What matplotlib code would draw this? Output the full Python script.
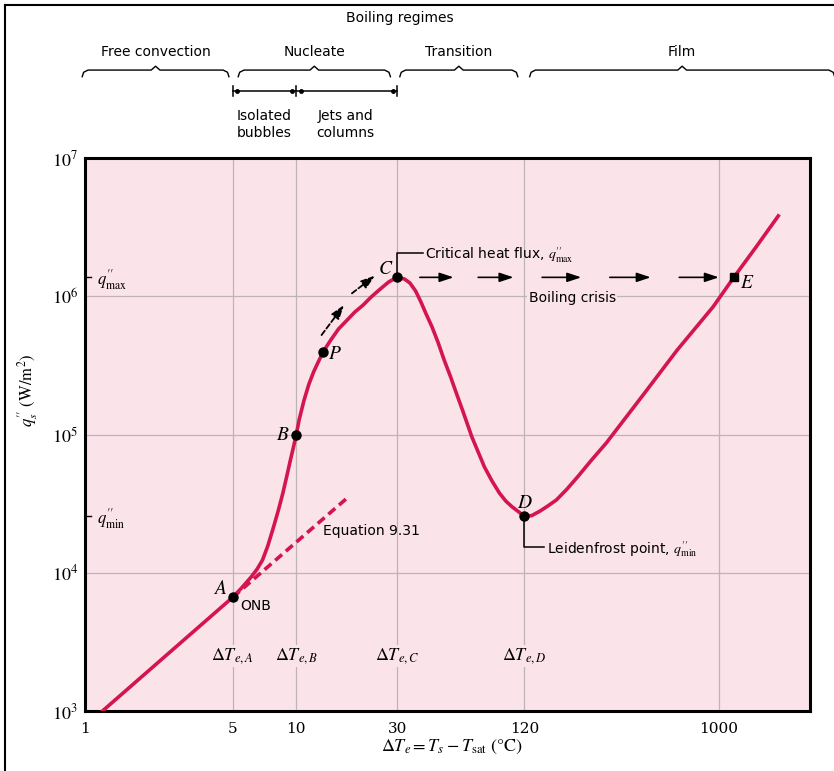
import numpy as np
import matplotlib
matplotlib.use('Agg')
import matplotlib.pyplot as plt
from matplotlib.lines import Line2D

plt.rcParams['font.family'] = ['DejaVu Sans']
plt.rcParams['mathtext.fontset'] = 'stix'

# boiling curve (delta T_e in degC, q'' in W/m2)
dT = [1.21, 5.0, 5.51, 6.13, 6.53, 6.92, 7.33, 7.81, 8.23, 8.64, 9.02, 9.38, 9.70, 10.0,
      10.32, 10.87, 11.46, 12.07, 12.72, 13.41, 14.57, 15.85, 17.41, 18.93, 20.73, 22.62,
      24.66, 27.4, 30.0, 32.5, 34.5, 36.7, 38.9, 40.96, 43.9, 46.99, 50.1, 53.7, 57.3, 61.2,
      64.4, 67.7, 72.6, 77.6, 84.4, 91.5, 98.1, 105.0, 112.4, 120.0, 130.1, 142.8, 155.0,
      170.2, 191.1, 214.8, 249.8, 293.2, 432.1, 634.8, 939.9, 1177.0, 1503.0, 1911.0]
q = [1.0e3, 6.64e3, 7.76e3, 9.36e3, 1.064e4, 1.236e4, 1.562e4, 2.15e4, 2.84e4, 3.77e4, 5.01e4,
     6.54e4, 8.12e4, 1.0e5, 1.28e5, 1.76e5, 2.30e5, 2.83e5, 3.36e5, 3.97e5, 4.83e5, 5.80e5,
     6.73e5, 7.69e5, 8.64e5, 9.88e5, 1.11e6, 1.27e6, 1.37e6, 1.333e6, 1.247e6, 1.092e6, 9.09e5,
     7.57e5, 6.0e5, 4.59e5, 3.46e5, 2.62e5, 1.98e5, 1.50e5, 1.20e5, 9.64e4, 7.47e4, 5.85e4,
     4.61e4, 3.77e4, 3.30e4, 3.0e4, 2.77e4, 2.57e4, 2.59e4, 2.80e4, 3.04e4, 3.36e4, 4.03e4,
     4.95e4, 6.54e4, 8.68e4, 1.88e5, 4.08e5, 8.40e5, 1.37e6, 2.28e6, 3.81e6]

# free convection correlation (Equation 9.31) carried on past ONB
dT_eq = [5.0, 17.7]
q_eq = [6.64e3, 3.55e4]

# labelled points
pt_names = ['A', 'B', 'P', 'C', 'D']
pt_dT = [5.0, 10.0, 13.41, 30.0, 120.0]
pt_q = [6.64e3, 1.0e5, 3.97e5, 1.37e6, 2.57e4]
E_dT = 1177.0
E_q = 1.37e6

q_max = 1.37e6
q_min = 2.57e4

# boiling crisis arrows (C -> E)
crisis_from = [38.45, 72.6, 145.7, 304.7, 649.7]
crisis_to = [55.5, 106.7, 223.2, 476.1, 1000.0]

# dashed arrows along the nucleate branch
nuc_from = [(13.17, 5.24e5), (18.34, 1.05e6)]
nuc_to = [(16.82, 8.64e5), (23.58, 1.41e6)]

x_ticks = [1, 5, 10, 30, 120, 1000]
y_ticks = [1e3, 1e4, 1e5, 1e6, 1e7]
dT_marks = [5, 10, 30, 120]
dT_names = ['A', 'B', 'C', 'D']

regimes = ['Free convection', 'Nucleate', 'Transition', 'Film']
regime_edges = [(0.97, 4.8), (5.31, 27.9), (30.9, 111.8), (127.2, 3532.0)]

pink = '#FBE3EA'
red = '#D4154F'

fig = plt.figure(figsize=(8.34, 7.71), dpi=100)
ax = fig.add_axes([85 / 834, 60 / 771, 725 / 834, 553 / 771])
ax.set_xscale('log')
ax.set_yscale('log')
ax.set_xlim(1, 2700)
ax.set_ylim(1e3, 1e7)
ax.set_facecolor(pink)
for s in ax.spines.values():
    s.set_linewidth(2.2)

ax.set_xticks(x_ticks)
ax.set_xticklabels([str(t) for t in x_ticks], fontfamily='DejaVu Serif', fontsize=11)
ax.set_yticks(y_ticks)
ax.set_yticklabels(['$10^{%d}$' % int(np.log10(t)) for t in y_ticks], fontsize=13)
ax.minorticks_off()
ax.tick_params(length=0)
ax.tick_params(axis='x', pad=8)
ax.tick_params(axis='y', pad=5)
ax.grid(True, color='#BFB3B8', lw=0.9)
ax.set_axisbelow(True)

# curve
ax.plot(dT_eq, q_eq, color=red, lw=2.6, dashes=(2.5, 1.4), zorder=3)
ax.plot(dT, q, color=red, lw=2.6, zorder=3, solid_joinstyle='round')
ax.plot(pt_dT, pt_q, 'o', color='black', ms=6.5, zorder=4)
ax.plot([E_dT], [E_q], 's', color='black', ms=5.5, zorder=4)

offs = {'A': (-9.4, 6.5), 'B': (-10, 0), 'P': (8.6, -1.4), 'C': (-7.9, 6.5), 'D': (0.7, 10)}
for n, x, y in zip(pt_names, pt_dT, pt_q):
    ax.annotate('$%s$' % n, (x, y), xytext=offs[n], textcoords='offset points',
                ha='center', va='center', fontsize=14)
ax.annotate('$E$', (E_dT, E_q), xytext=(9.4, -3.6), textcoords='offset points',
            ha='center', va='center', fontsize=14)
ax.annotate('ONB', (pt_dT[0], pt_q[0]), xytext=(5.8, -6.5), textcoords='offset points',
            ha='left', va='center', fontsize=10)

# arrows
for x0, x1 in zip(crisis_from, crisis_to):
    ax.annotate('', xy=(x1, q_max), xytext=(x0, q_max),
                arrowprops=dict(arrowstyle='-|>,head_length=0.6,head_width=0.2', color='black',
                                lw=1.2, mutation_scale=14, shrinkA=0, shrinkB=0))
for (x0, y0), (x1, y1) in zip(nuc_from, nuc_to):
    ax.annotate('', xy=(x1, y1), xytext=(x0, y0),
                arrowprops=dict(arrowstyle='-|>,head_length=0.6,head_width=0.2', color='black',
                                lw=1.3, ls=(0, (3, 1.5)), mutation_scale=14, shrinkA=0, shrinkB=0))

# leaders and notes
qmax_txt = "$q^{\\prime\\prime}_{\\rm max}$"
qmin_txt = "$q^{\\prime\\prime}_{\\rm min}$"
ax.plot([30, 30, 39.7], [q_max, 2.07e6, 2.07e6], color='black', lw=1.1)
ax.text(40.5, 1.98e6, "Critical heat flux, " + qmax_txt, fontsize=10, ha='left', va='center')
ax.plot([120, 120, 148.4], [q_min, 1.54e4, 1.54e4], color='black', lw=1.1)
ax.text(153.2, 1.47e4, "Leidenfrost point, " + qmin_txt, fontsize=10, ha='left', va='center')
ax.text(13.4, 2.0e4, 'Equation 9.31', fontsize=10, ha='left', va='center')
ax.text(202.6, 9.71e5, 'Boiling crisis', fontsize=10, ha='center', va='center',
        bbox=dict(facecolor=pink, edgecolor='none', pad=1))
for x, n in zip(dT_marks, dT_names):
    ax.text(x, 2.5e3, '$\\Delta T_{e,%s}$' % n, fontsize=13, ha='center', va='center',
            bbox=dict(facecolor=pink, edgecolor='none', pad=1))

# q''max / q''min marks inside the left axis
ytr = ax.get_yaxis_transform()
for v, lab in [(q_max, qmax_txt), (q_min, qmin_txt)]:
    ax.plot([0, 0.008], [v, v], color='black', lw=1, transform=ytr)
    ax.text(0.016, v * 0.96, lab, transform=ytr, fontsize=12, ha='left', va='center')

ax.set_ylabel("$q^{\\prime\\prime}_s\\ ({\\rm W/m^2})$", fontsize=12)
ax.yaxis.set_label_coords(-0.062, 0.58)
ax.set_xlabel("$\\Delta T_e = T_s - T_{\\rm sat}\\ (\\degree{\\rm C})$", fontsize=13)
ax.xaxis.set_label_coords(0.506, -0.048)

# boiling regimes header
lx0, lx1 = np.log10(ax.get_xlim())


def xfrac(v):
    return (np.log10(v) - lx0) / (lx1 - lx0)


def brace(x0, x1, y):
    f0, f1 = xfrac(x0), xfrac(x1)
    fm = (f0 + f1) / 2
    xs = [f0, f0 + 0.002, f0 + 0.008, fm - 0.006, fm, fm + 0.006, f1 - 0.008, f1 - 0.002, f1]
    ys = [y - 0.012, y - 0.004, y, y, y + 0.007, y, y, y - 0.004, y - 0.012]
    ax.plot(xs, ys, transform=ax.transAxes, color='black', lw=1, clip_on=False)


ax.text(xfrac(31), 1.253, 'Boiling regimes', transform=ax.transAxes, fontsize=10,
        ha='center', va='center')
for name, (x0, x1) in zip(regimes, regime_edges):
    fm = (xfrac(x0) + xfrac(x1)) / 2
    ax.text(fm, 1.192, name, transform=ax.transAxes, fontsize=10, ha='center', va='center')
    brace(x0, x1, 1.159)

yd = 1.121
ax.plot([xfrac(5), xfrac(30)], [yd, yd], transform=ax.transAxes, color='black', lw=1.1,
        clip_on=False)
for v in [5, 10, 30]:
    ax.plot([xfrac(v), xfrac(v)], [yd - 0.009, yd + 0.009], transform=ax.transAxes,
            color='black', lw=1.1, clip_on=False)
ax.plot([xfrac(5) + 0.006, xfrac(10) - 0.006, xfrac(10) + 0.006, xfrac(30) - 0.006], [yd] * 4,
        'o', ms=2.5, color='black', transform=ax.transAxes, clip_on=False)
ax.text(xfrac(7.03), 1.06, 'Isolated\nbubbles', transform=ax.transAxes, fontsize=10,
        ha='center', va='center', linespacing=1.3)
ax.text(xfrac(17.05), 1.06, 'Jets and\ncolumns', transform=ax.transAxes, fontsize=10,
        ha='center', va='center', linespacing=1.3)

# thin frame round the picture (left and top)
fig.add_artist(Line2D([0.0054, 0.0054], [0, 0.994], transform=fig.transFigure, color='black', lw=1.5))
fig.add_artist(Line2D([0.0054, 1], [0.994, 0.994], transform=fig.transFigure, color='black', lw=1.5))

fig.savefig('out.png', dpi=100)
